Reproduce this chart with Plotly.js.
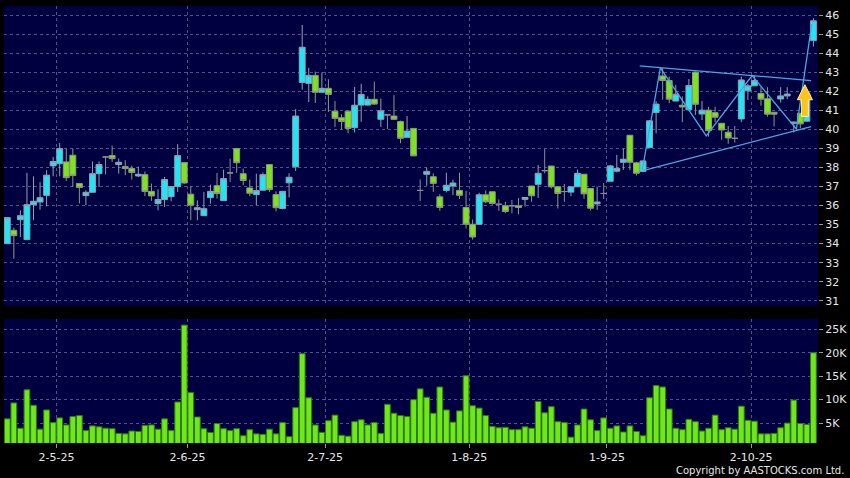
<!DOCTYPE html>
<html><head><meta charset="utf-8">
<script src="https://cdn.plot.ly/plotly-3.0.1.min.js"></script>
<style>html,body{margin:0;padding:0;background:#000;}#chart{width:850px;height:478px;}</style>
</head><body><div id="chart"></div>
<script>
// ---- Data (trading-day index 0..123) ----
const openP = [34.00,34.70,35.26,34.21,36.05,36.19,36.54,38.09,38.21,38.30,38.65,37.16,36.53,36.70,37.68,38.56,38.63,38.16,38.05,37.95,
37.56,37.63,36.75,36.11,36.32,36.47,37.00,38.26,36.60,35.79,35.47,36.42,37.05,36.26,37.72,39.00,37.68,36.93,36.58,36.81,
38.16,36.58,35.85,37.20,38.04,42.48,42.43,42.85,41.96,42.17,40.97,40.62,40.97,40.10,41.29,41.29,41.59,40.54,40.77,40.71,
40.42,39.59,40.06,36.80,37.65,37.52,36.46,36.80,37.03,36.80,35.90,35.02,35.02,36.57,36.73,36.07,35.99,35.99,35.99,36.33,
37.03,37.12,37.84,38.08,36.99,36.74,36.71,36.99,37.65,36.90,36.09,36.64,37.28,37.81,38.28,39.70,38.25,37.80,39.06,40.90,
42.82,42.58,41.50,41.28,41.04,43.02,40.82,41.02,40.89,40.33,39.86,39.54,40.56,42.04,42.30,41.90,41.62,40.91,41.61,41.77,
40.33,40.86,40.44,44.68];
const highP = [35.40,34.84,35.75,37.72,37.54,37.23,37.86,38.56,39.30,39.00,39.00,37.16,36.81,38.32,38.32,38.58,39.16,38.47,38.39,38.10,
38.05,37.80,37.16,36.86,37.51,37.00,39.23,38.30,37.02,36.28,36.72,37.10,37.72,37.89,38.47,39.00,37.95,37.37,37.68,37.74,
38.16,36.75,36.75,37.70,41.08,45.50,43.25,43.05,43.00,42.65,41.50,40.80,40.97,42.24,42.41,41.75,42.52,41.63,40.80,41.81,
40.47,40.71,40.06,37.38,38.00,37.70,36.60,37.73,37.36,37.73,36.77,35.27,36.68,36.80,36.75,36.33,36.20,36.30,36.40,36.43,
37.05,38.14,38.98,38.10,37.00,37.14,37.00,37.90,37.65,36.90,37.00,37.19,38.15,38.67,39.01,39.72,38.30,38.40,40.50,41.50,
43.24,42.79,42.35,41.74,42.66,43.05,41.50,41.20,41.20,40.33,40.19,40.19,42.79,42.40,42.82,42.23,42.23,40.91,42.23,42.23,
40.42,40.86,41.95,45.86];
const lowP = [34.00,33.21,34.35,34.21,35.23,35.79,35.96,37.54,37.54,37.30,36.98,36.11,36.02,36.70,36.98,37.63,38.30,37.68,37.60,37.37,
37.50,36.50,36.25,35.75,35.93,36.23,36.72,37.15,35.23,35.23,35.47,36.10,36.37,36.26,37.25,37.72,37.07,36.49,36.02,36.81,
36.72,35.70,35.80,36.43,37.82,42.10,41.45,41.40,41.96,40.93,40.14,40.00,39.80,39.84,40.41,41.25,41.30,40.14,40.03,40.50,
39.28,39.59,38.60,36.24,37.05,36.72,35.73,36.70,36.56,36.35,34.80,34.21,35.02,36.13,36.05,35.73,35.60,35.60,35.55,35.95,
36.20,36.40,37.70,36.90,35.85,36.20,36.50,36.99,36.36,35.75,35.78,36.35,37.28,37.75,37.88,37.88,37.58,37.75,39.01,39.80,
41.57,41.39,41.50,40.39,41.04,40.77,40.50,39.63,40.40,39.46,39.25,39.32,40.39,41.56,42.30,41.25,40.68,40.16,41.42,41.60,
39.84,40.07,40.42,44.37];
const closeP = [35.37,34.42,35.47,36.05,36.23,36.42,37.60,38.32,39.00,37.47,37.58,36.95,36.70,37.68,38.16,38.56,38.47,38.28,37.95,37.74,
37.65,36.74,36.51,36.32,37.37,37.00,38.63,37.19,36.02,35.89,35.84,36.75,36.63,37.42,37.72,38.26,37.32,36.65,36.79,37.63,
36.84,35.89,36.75,37.49,40.71,44.33,42.85,41.96,42.17,41.85,40.59,40.43,40.06,41.28,41.85,41.59,41.34,40.99,40.77,40.54,
39.54,39.92,38.62,36.80,37.80,37.17,35.90,37.07,37.19,36.54,35.02,34.35,36.57,36.20,36.11,36.07,35.69,35.99,35.90,36.43,
36.52,37.70,37.84,36.99,36.64,36.74,36.99,37.70,36.62,35.86,36.19,36.64,38.09,37.96,38.44,38.28,37.70,38.35,40.46,41.34,
42.58,41.60,41.86,41.19,42.32,41.33,41.02,39.95,40.65,39.98,39.56,39.54,42.61,42.30,42.58,41.60,40.81,40.81,41.77,41.87,
40.39,40.30,41.91,45.72];
const volumeK = [5.9,9.3,3.9,12.1,8.8,3.7,7.8,5.1,6.1,4.6,6.4,6.6,3.4,4.4,4.2,3.9,3.8,2.8,2.7,3.3,
3.2,4.5,4.6,3.7,5.9,3.4,9.5,25.9,11.5,6.3,3.8,3.0,4.9,3.8,3.4,3.8,2.3,3.6,2.7,2.6,
3.7,2.7,5.1,2.1,8.3,19.8,10.4,4.6,3.0,5.5,6.7,2.4,2.2,5.3,5.7,4.6,5.1,2.8,9.0,7.1,
6.6,6.4,10.0,12.3,10.5,7.1,12.7,7.8,5.2,7.6,15.1,8.7,8.2,6.6,4.3,4.0,4.1,3.6,3.6,4.2,
3.9,9.6,7.2,8.5,5.3,5.1,2.0,4.6,8.0,5.7,3.4,6.1,3.9,4.4,3.1,4.4,3.2,2.3,10.4,13.0,
12.7,8.0,3.9,3.6,5.8,5.3,3.3,3.9,6.7,3.6,4.0,3.7,8.6,5.6,5.4,2.7,2.7,2.8,4.0,5.0,
9.9,4.9,4.7,20.0];
// first trading day of each labelled month (index) and its label
const monthStartIdx = [8, 28, 49, 71, 92, 114];
const monthLabels = ['2-5-25','2-6-25','2-7-25','1-8-25','1-9-25','2-10-25'];
const priceTicks = [31,32,33,34,35,36,37,38,39,40,41,42,43,44,45,46];
const volTicks = [5,10,15,20,25];
const volTickLabels = ['5K','10K','15K','20K','25K'];
// drawn pattern (index, price)
const upperLineX = [96.5, 122.65], upperLineY = [43.35, 42.57];
const lowerLineX = [97.0, 122.65], lowerLineY = [37.84, 40.16];
const zigzagX = [96.9, 99.65, 106.65, 113.65, 120.4, 122.75];
const zigzagY = [37.9, 43.24, 39.67, 42.84, 40.03, 45.55];
const arrowCenter = 121.7, arrowBase = 40.69, arrowNeck = 41.57, arrowTip = 42.36;

// ---- Build ----
const idx = closeP.map((_, i) => i);
function pick(cond) {
  const sel = idx.filter(cond);
  return {x: sel, open: sel.map(i => openP[i]), high: sel.map(i => highP[i]),
          low: sel.map(i => lowP[i]), close: sel.map(i => closeP[i])};
}
const up = pick(i => closeP[i] > openP[i]);
const dn = pick(i => closeP[i] < openP[i]);
const dj = pick(i => closeP[i] === openP[i]);

function candle(d, fill, line) {
  return Object.assign({type: 'candlestick', xaxis: 'x', yaxis: 'y', hoverinfo: 'skip', showlegend: false,
    whiskerwidth: 0,
    increasing: {fillcolor: fill, line: {color: line, width: 1}},
    decreasing: {fillcolor: fill, line: {color: line, width: 1}}}, d);
}
const patColor = '#4aa6e2';
const traces = [
  candle(up, '#22e4f2', '#8ea2b4'),
  candle(dn, '#7ee21e', '#8c9a80'),
  candle(dj, '#8c8c8c', '#8c8c96'),
  {type: 'scatter', mode: 'lines', x: upperLineX, y: upperLineY, line: {color: patColor, width: 1.3}, hoverinfo: 'skip', showlegend: false},
  {type: 'scatter', mode: 'lines', x: lowerLineX, y: lowerLineY, line: {color: patColor, width: 1.3}, hoverinfo: 'skip', showlegend: false},
  {type: 'scatter', mode: 'lines', x: zigzagX, y: zigzagY, line: {color: patColor, width: 1.3}, hoverinfo: 'skip', showlegend: false},
  {type: 'bar', x: idx, y: volumeK, xaxis: 'x2', yaxis: 'y2', hoverinfo: 'skip', showlegend: false,
   marker: {color: '#6ee81a', line: {color: '#2f7a10', width: 1}}}
];

const hw = 1.15, sw = 0.53;
const arrowPath = 'M ' + (arrowCenter - sw) + ',' + arrowBase + ' L ' + (arrowCenter - sw) + ',' + arrowNeck +
  ' L ' + (arrowCenter - hw) + ',' + arrowNeck + ' L ' + arrowCenter + ',' + arrowTip +
  ' L ' + (arrowCenter + hw) + ',' + arrowNeck + ' L ' + (arrowCenter + sw) + ',' + arrowNeck +
  ' L ' + (arrowCenter + sw) + ',' + arrowBase + ' Z';

const gridVals = monthStartIdx.map(i => i - 0.5);
const font = {family: 'DejaVu Sans, sans-serif', size: 11, color: '#e6e6e6'};
const gridColor = '#52528a';
const xr = [-0.5, 123.7];

const layout = {
  width: 850, height: 478,
  paper_bgcolor: '#000000', plot_bgcolor: '#000040',
  margin: {l: 4, r: 32, t: 6, b: 35},
  font: font,
  showlegend: false,
  boxgap: 0.1, boxgroupgap: 0, bargap: 0.12,
  xaxis: {domain: [0, 1], anchor: 'y', range: xr, tickvals: gridVals, showticklabels: false, ticks: '',
          showgrid: true, gridcolor: gridColor, griddash: '3px,3px', zeroline: false,
          rangeslider: {visible: false}, fixedrange: true},
  xaxis2: {domain: [0, 1], anchor: 'y2', range: xr, tickvals: gridVals, ticktext: monthLabels,
           ticks: 'outside', ticklen: 4, tickcolor: '#9a9a9a', showgrid: true, gridcolor: gridColor,
           griddash: '3px,3px', zeroline: false, tickfont: font},
  yaxis: {domain: [0.3135, 1], anchor: 'x', side: 'right', range: [30.72, 46.5], tickvals: priceTicks,
          ticks: 'outside', ticklen: 4, tickcolor: '#9a9a9a', showgrid: true, gridcolor: gridColor,
          griddash: '3px,3px', zeroline: false, tickfont: font},
  yaxis2: {domain: [0, 0.2838], anchor: 'x2', side: 'right', range: [0.75, 27.2], tickvals: volTicks,
           ticktext: volTickLabels, ticks: 'outside', ticklen: 4, tickcolor: '#9a9a9a', showgrid: true,
           gridcolor: gridColor, griddash: '3px,3px', zeroline: false, tickfont: font},
  shapes: [{type: 'path', xref: 'x', yref: 'y', path: arrowPath, fillcolor: '#ffc41c',
            line: {color: '#fff09a', width: 1}}],
  annotations: [{text: 'Copyright by AASTOCKS.com Ltd.', xref: 'paper', yref: 'paper', x: 1.0348, y: -0.064,
                 xanchor: 'right', yanchor: 'middle', showarrow: false,
                 font: {family: 'DejaVu Sans, sans-serif', size: 10, color: '#e6e6e6'}}]
};
Plotly.newPlot('chart', traces, layout, {staticPlot: true, displayModeBar: false});
</script></body></html>
